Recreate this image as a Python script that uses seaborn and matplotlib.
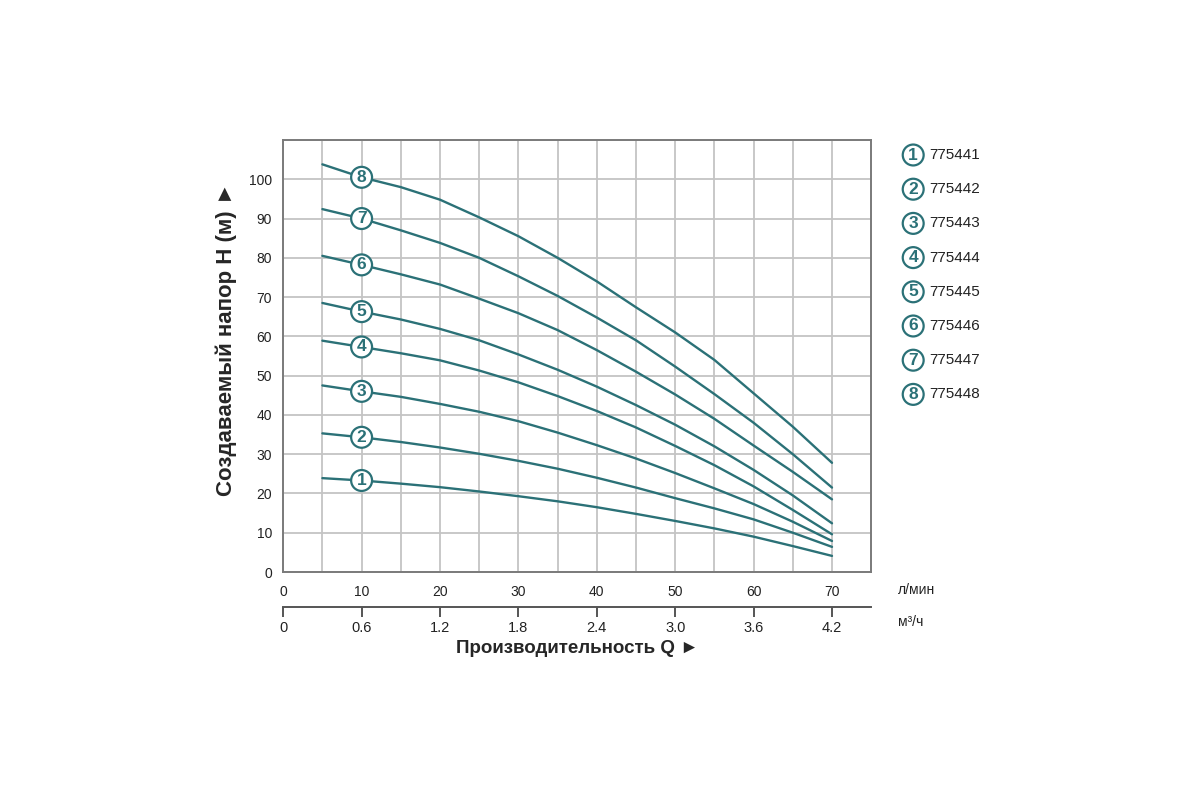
import numpy as np
import pandas as pd
import matplotlib
matplotlib.use("Agg")
import matplotlib.pyplot as plt
import seaborn as sns

# Flow (l/min) points
flow_lpm = [5, 10, 15, 20, 25, 30, 35, 40, 45, 50, 55, 60, 65, 70]

# Head (m) for each pump model
head_1 = [23.9, 23.3, 22.5, 21.6, 20.5, 19.3, 18.0, 16.5, 14.8, 13.0, 11.1, 9.0, 6.6, 4.1]
head_2 = [35.3, 34.3, 33.1, 31.7, 30.1, 28.3, 26.3, 24.0, 21.5, 18.8, 16.2, 13.4, 10.0, 6.4]
head_3 = [47.5, 46.0, 44.6, 42.8, 40.8, 38.4, 35.5, 32.3, 28.9, 25.2, 21.3, 17.3, 12.8, 7.9]
head_4 = [58.9, 57.3, 55.7, 53.9, 51.3, 48.3, 44.8, 41.0, 36.8, 32.1, 27.2, 21.8, 15.8, 9.6]
head_5 = [68.5, 66.3, 64.3, 61.9, 59.0, 55.4, 51.5, 47.2, 42.5, 37.5, 32.0, 26.0, 19.5, 12.4]
head_6 = [80.5, 78.2, 75.8, 73.2, 69.6, 65.9, 61.6, 56.5, 51.0, 45.2, 39.0, 32.2, 25.5, 18.5]
head_7 = [92.4, 90.0, 87.0, 83.8, 80.0, 75.3, 70.3, 64.8, 59.0, 52.3, 45.3, 38.0, 30.0, 21.5]
head_8 = [103.8, 100.5, 98.0, 94.8, 90.3, 85.5, 80.0, 74.0, 67.4, 61.0, 54.0, 45.5, 37.0, 27.8]

curve_ids = ["1", "2", "3", "4", "5", "6", "7", "8"]
models = ["775441", "775442", "775443", "775444", "775445", "775446", "775447", "775448"]
heads = [head_1, head_2, head_3, head_4, head_5, head_6, head_7, head_8]

lpm_ticks = [0, 10, 20, 30, 40, 50, 60, 70]
m3h_ticks = [0, 0.6, 1.2, 1.8, 2.4, 3.0, 3.6, 4.2]
m3h_labels = ["0", "0.6", "1.2", "1.8", "2.4", "3.0", "3.6", "4.2"]
head_ticks = [0, 10, 20, 30, 40, 50, 60, 70, 80, 90, 100]

LINE = "#2b7177"
GRID = "#c4c4c4"
SPINE = "#7a7a7a"

sns.set_style("white")
plt.rcParams["font.family"] = ["Liberation Sans", "DejaVu Sans"]

# long-form table for seaborn
rows = []
for cid, h in zip(curve_ids, heads):
    for q, v in zip(flow_lpm, h):
        rows.append({"curve": cid, "Q": q, "H": v})
df = pd.DataFrame(rows)

fig = plt.figure(figsize=(12, 8), dpi=100)
ax = fig.add_axes([0.236, 0.285, 0.49, 0.54])

sns.lineplot(data=df, x="Q", y="H", hue="curve", palette=[LINE] * 8,
             linewidth=1.7, legend=False, ax=ax, zorder=3)

ax.set_xlim(0, 75)
ax.set_ylim(0, 110)
ax.set_xticks(lpm_ticks)
ax.set_xticks(np.arange(5, 75, 10), minor=True)
ax.set_yticks(head_ticks)
ax.set_yticks([110], minor=True)
ax.grid(True, which="both", color=GRID, linewidth=1.3, zorder=0)
ax.tick_params(axis="both", which="both", length=0, labelsize=10, colors="#222222")
ax.tick_params(axis="x", pad=9)
ax.tick_params(axis="y", pad=8)
for sp in ax.spines.values():
    sp.set_color(SPINE)
    sp.set_linewidth(1.4)

ax.set_xlabel("")
ax.set_ylabel("Создаваемый напор H (м) ►", fontsize=16, fontweight="bold")
ax.yaxis.set_label_coords(-0.078, 0.54)

# numbered circles sitting on the curves at 10 l/min
i10 = flow_lpm.index(10)
for cid, h in zip(curve_ids, heads):
    ax.text(10, h[i10], cid, ha="center", va="center", fontsize=12.5, color=LINE,
            fontweight="bold", zorder=5,
            bbox=dict(boxstyle="circle,pad=0.17", fc="white", ec=LINE, lw=1.6))

# second flow axis in m3/h
sec = ax.secondary_xaxis(-0.081, functions=(lambda x: x * 0.06, lambda x: x / 0.06))
sec.set_xticks(m3h_ticks)
sec.set_xticklabels(m3h_labels)
sec.tick_params(length=7, width=1.4, color="#555555", labelsize=10.5, colors="#222222", pad=3)
sec.spines["bottom"].set_color("#555555")
sec.spines["bottom"].set_linewidth(1.4)
sec.set_xlabel("Производительность Q ►", fontsize=13.5, fontweight="bold", labelpad=4)

fig.text(0.748, 0.263, "л/мин", fontsize=10, va="center", color="#222222")
fig.text(0.748, 0.223, "м³/ч", fontsize=10, va="center", color="#222222")

# legend on the right
for k, (cid, name) in enumerate(zip(curve_ids, models)):
    yy = 1 - (155 + k * 34.2) / 800
    fig.text(0.761, yy, cid, ha="center", va="center", fontsize=12.5, color=LINE,
             fontweight="bold",
             bbox=dict(boxstyle="circle,pad=0.17", fc="white", ec=LINE, lw=1.6))
    fig.text(0.7745, yy, name, ha="left", va="center", fontsize=11, color="#222222")

fig.savefig("out.png", dpi=100)
